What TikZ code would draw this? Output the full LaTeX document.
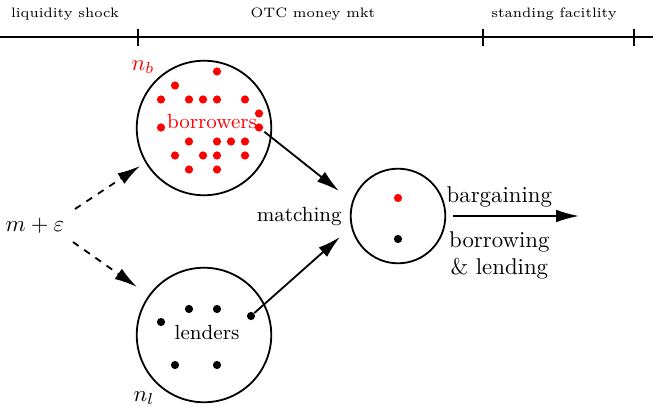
\documentclass[tikz,border=0pt]{standalone}
\usetikzlibrary{shapes,arrows.meta,positioning}
\tikzstyle{group} = [circle, draw, thick, minimum size=59pt, inner sep=0pt]
\tikzstyle{dot} = [circle, fill, inner sep=0pt, minimum size=3.6pt]
\tikzstyle{line} = [draw, thick, -{Latex[length=10pt,width=5.5pt]}]
\tikzstyle{dline} = [line, dashed]
\tikzstyle{phase} = [font=\fontsize{6}{7}\selectfont]

\begin{document}
\begin{tikzpicture}[x=0.4386pt, y=-0.4386pt]
	\useasboundingbox (0,0) rectangle (653,407);
	% time line
	\draw[thick] (0,37) -- (653,37);
	\foreach \x in {138,483,634}
		\draw[thick] (\x,29) -- (\x,46);
	\node[phase] (shock) at (65,14) {liquidity shock};
	\node[phase] (otc) at (313,14) {OTC money mkt};
	\node[phase] (sf) at (554,14) {standing facitlity};

	% agents
	\node[group] (borrowers) at (204,128) {};
	\node[group] (lenders) at (204,335) {};
	\node[group, minimum size=41.5pt] (match) at (398,216) {};

	\foreach \i/\j in {1/-4, -2/-3, -3/-2, -1/-2, 0/-2, 1/-2, 3/-2, 4/-1, -3/0,
		-1/1, 1/1, 2/1, 3/1, -2/2, 0/2, 1/2, 3/2, -1/3, 1/3}
		\node[dot, red] at (203+14*\i, 127.5+14*\j) {};
	\node[dot, red] (bout) at (259,127.5) {};
	\node[red, font=\small] (blabel) at (212,121) {borrowers};
	\node[red] (nb) at (143,67) {$n_b$};

	\foreach \p in {(189,309), (217,309), (161,322), (175,365), (217,365)}
		\node[dot] at \p {};
	\node[dot] (lout) at (251,316) {};
	\node[font=\small] (llabel) at (207,332) {lenders};
	\node (nl) at (144,398) {$n_l$};

	\node[dot, red] (mb) at (398,198) {};
	\node[dot] (ml) at (398,239) {};
	\node[font=\small, left=0pt of match] (mlabel) {matching};

	\node (meps) at (35,226) {$m+\varepsilon$};

	\coordinate (d1s) at (75,209);
	\coordinate (d1e) at (140,166);
	\coordinate (d2s) at (73,242);
	\coordinate (d2e) at (137,287);
	\coordinate (m1) at (339,191);
	\coordinate (m2) at (340,237);
	\coordinate (out) at (579,216);

	\path [dline] (d1s) -- (d1e);
	\path [dline] (d2s) -- (d2e);
	\path [line, shorten <=1pt] (bout) -- (m1);
	\path [line] (lout) -- (m2);
	\path [line, shorten <=3pt] (match) -- (out)
		node[pos=0.4, above] {bargaining}
		node[pos=0.4, below=3pt, align=center] {borrowing\\ \& lending};
\end{tikzpicture}
\end{document}
